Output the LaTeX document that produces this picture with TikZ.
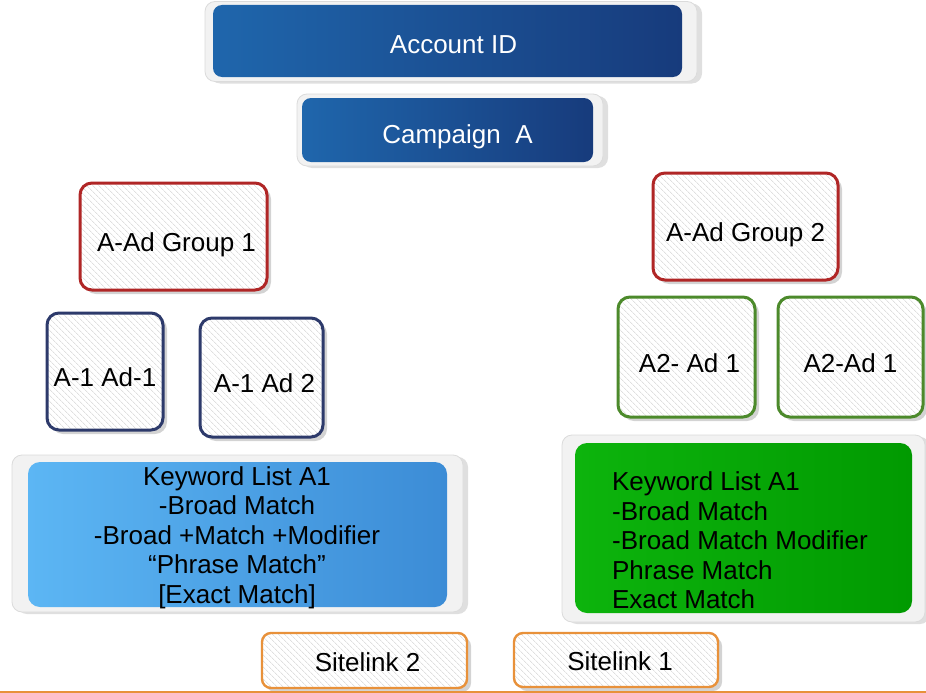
\documentclass[tikz,border=0pt]{standalone}
\usepackage{fontspec}
\setmainfont{Liberation Sans}
\usetikzlibrary{patterns.meta,shadows}
\definecolor{blueL}{HTML}{1F66AC}
\definecolor{blueR}{HTML}{173B7C}
\definecolor{skyL}{HTML}{5CB6F4}
\definecolor{skyR}{HTML}{3C8CD6}
\definecolor{grnL}{HTML}{0DB40D}
\definecolor{grnR}{HTML}{019A01}
\definecolor{redB}{HTML}{B02626}
\definecolor{navyB}{HTML}{2D3A6B}
\definecolor{grnB}{HTML}{4C8A2B}
\definecolor{orgB}{HTML}{E8913A}
\begin{document}
\begin{tikzpicture}[x=1pt,y=-1pt,
  txt/.style={font=\fontsize{26}{29.5}\selectfont, text=black},
  hatchbox/.style={txt, rounded corners=12pt, line width=3pt, draw=#1,
    drop shadow={shadow xshift=4pt,shadow yshift=-4pt,opacity=0.35},
    preaction={fill=white},
    pattern={Lines[angle=-45,distance=4pt,line width=0.6pt]}, pattern color=gray!38,
    inner sep=0pt, text height=30pt, text depth=0pt},
  sitebox/.style={hatchbox=#1, rounded corners=9pt, line width=2.4pt, text height=21pt},
  frame/.style={rounded corners=10pt, fill=gray!10, draw=gray!28, line width=0.8pt,
    drop shadow={shadow xshift=5pt,shadow yshift=-2pt,opacity=0.25}},
  bluebox/.style={txt, text=white, rounded corners=9pt, left color=blueL, right color=blueR,
    inner sep=0pt, text height=24pt, text depth=0pt},
]
\useasboundingbox (0,0) rectangle (926,693);
% top boxes
\node[frame, minimum width=492pt, minimum height=80pt] (accf) at (451,41.5) {};
\node[bluebox, minimum width=469pt, minimum height=72pt] (acc) at (447.5,41) {\hspace*{12pt}Account ID};
\node[frame, minimum width=306pt, minimum height=72pt] (campf) at (450,130) {};
\node[bluebox, minimum width=291pt, minimum height=64pt, text height=26pt] (camp) at (447.5,130) {\hspace*{20pt}Campaign\ \ A};
% ad groups
\node[hatchbox=redB, minimum width=187pt, minimum height=107pt] (g1) at (173.5,236.5) {\hspace*{6pt}A-Ad Group 1};
\node[hatchbox=redB, minimum width=185pt, minimum height=107pt] (g2) at (745.5,226.5) {A-Ad Group 2};
% ads
\node[hatchbox=navyB, minimum width=116pt, minimum height=117pt] (a11) at (105,371.5) {A-1 Ad-1};
\node[hatchbox=navyB, minimum width=123pt, minimum height=119pt] (a12) at (261.5,377.5) {\hspace*{6pt}A-1 Ad 2};
\node[hatchbox=grnB, minimum width=137pt, minimum height=120pt] (a21) at (686.5,357) {\hspace*{6pt}A2- Ad 1};
\node[hatchbox=grnB, minimum width=145pt, minimum height=120pt] (a22) at (850.5,357) {A2-Ad 1};
% keyword lists
\node[frame, minimum width=451pt, minimum height=157pt] (kwAf) at (237.5,533.5) {};
\node[rounded corners=12pt, left color=skyL, right color=skyR, minimum width=419pt, minimum height=145pt, inner sep=0pt] (kwA) at (237.5,534.5) {};
\node[txt, align=center, inner sep=0pt] (kwAt) at (237,537.5) {Keyword List A1\\-Broad Match\\-Broad +Match +Modifier\\“Phrase Match”\\{[Exact Match]}};
\node[frame, minimum width=363pt, minimum height=187pt] (kwBf) at (743.5,528.5) {};
\node[rounded corners=12pt, left color=grnL, right color=grnR, minimum width=337pt, minimum height=170pt, inner sep=0pt] (kwB) at (743.5,528) {};
\node[txt, align=left, inner sep=0pt] (kwBt) at (740,540.5) {Keyword List A1\\-Broad Match\\-Broad Match Modifier\\Phrase Match\\Exact Match};
% sitelinks
\node[sitebox=orgB, minimum width=205pt, minimum height=55pt] (s2) at (364.5,660.5) {\hspace*{6pt}Sitelink 2};
\node[sitebox=orgB, minimum width=204pt, minimum height=54pt] (s1) at (616,660) {\hspace*{8pt}Sitelink 1};
% bottom rule
\draw[orgB, line width=2pt] (0,691.8) -- (926,691.8);
\end{tikzpicture}
\end{document}
